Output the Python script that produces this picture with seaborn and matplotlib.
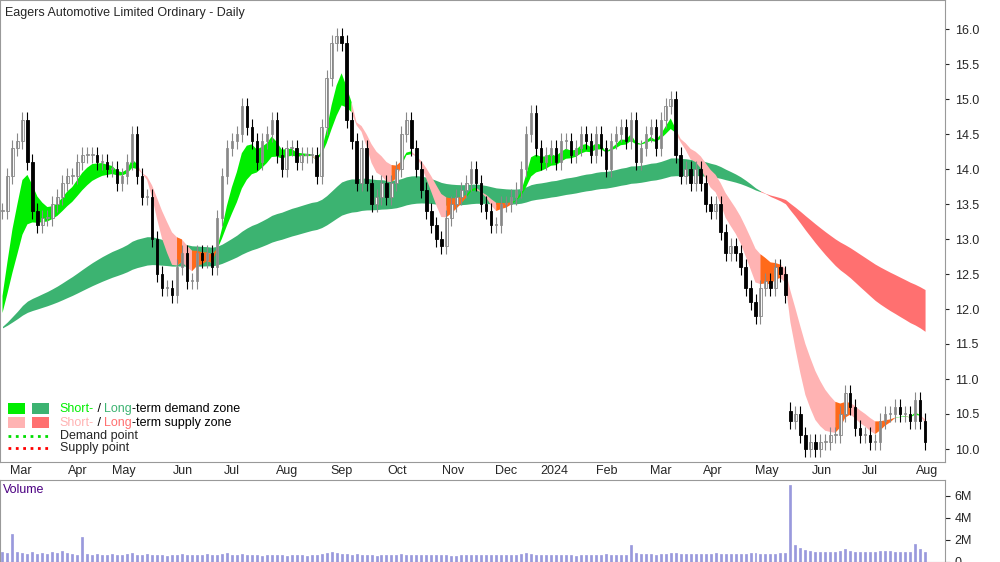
import numpy as np
import pandas as pd
import matplotlib
matplotlib.use("Agg")
import matplotlib.pyplot as plt
import seaborn as sns
from matplotlib.patches import Rectangle

sns.set_style("white")
plt.rcParams['font.family'] = ['Liberation Sans', 'DejaVu Sans']

# --- data (each sample = 2 trading days) ---
closes = [13.4,13.9,14.3,14.4,14.7,14.1,13.4,13.2,13.3,13.3,13.5,13.6,13.8,13.9,13.9,14.1,14.2,14.2,14.2,14.1,
          14.1,14.0,14.0,13.8,13.9,14.1,14.5,13.9,13.6,13.6,13.0,12.5,12.3,12.3,12.2,12.6,12.8,12.4,12.4,12.8,
          12.7,12.8,12.6,13.3,13.9,14.3,14.4,14.5,14.9,14.6,14.4,14.1,14.4,14.5,14.7,14.2,14.0,14.3,14.3,14.1,
          14.2,14.2,14.2,13.9,14.6,15.3,15.8,15.9,15.8,14.7,14.4,13.8,14.3,13.8,13.5,13.6,13.8,13.6,13.8,14.0,
          14.5,14.7,14.3,14.0,13.7,13.4,13.2,13.0,12.9,13.3,13.5,13.6,13.7,13.8,14.0,13.8,13.5,13.4,13.2,13.2,
          13.5,13.5,13.6,13.7,14.0,14.5,14.8,14.3,14.1,14.2,14.3,14.1,14.4,14.4,14.2,14.3,14.5,14.4,14.2,14.5,
          14.3,14.0,14.4,14.5,14.6,14.4,14.7,14.1,14.3,14.5,14.6,14.3,14.7,14.9,15.0,14.2,13.9,14.0,13.8,14.0,
          13.8,13.5,13.4,13.5,13.1,12.8,12.9,12.8,12.6,12.3,12.1,11.9,12.3,12.4,12.3,12.6,12.5,12.2,10.4,10.5,
          10.2,10.0,10.1,10.0,10.1,10.1,10.2,10.2,10.5,10.8,10.6,10.3,10.2,10.2,10.1,10.1,10.4,10.5,10.5,10.6,
          10.5,10.5,10.4,10.7,10.4,10.1]
volumes = [0.9,0.8,2.5,0.9,0.8,0.7,0.9,0.7,0.8,0.7,0.9,0.8,1.0,0.8,0.7,0.6,2.3,0.7,0.6,0.7,
           0.6,0.6,0.7,0.6,0.6,0.7,0.8,0.6,0.6,0.7,0.6,0.6,0.6,0.5,0.6,0.6,0.7,0.6,0.6,0.6,
           0.6,0.7,0.6,0.6,0.7,0.8,0.6,0.6,0.7,0.6,0.6,0.6,0.5,0.6,0.6,0.6,0.6,0.5,0.6,0.6,
           0.6,0.5,0.6,0.6,0.7,0.8,0.9,0.8,0.7,0.7,0.6,0.7,0.6,0.6,0.6,0.5,0.6,0.6,0.6,0.6,
           0.7,0.6,0.6,0.6,0.6,0.6,0.6,0.6,0.6,0.6,0.5,0.5,0.6,0.6,0.6,0.6,0.6,0.6,0.6,0.6,
           0.6,0.6,0.6,0.6,0.7,0.8,0.7,0.6,0.6,0.6,0.6,0.6,0.6,0.6,0.6,0.5,0.6,0.6,0.6,0.6,
           0.6,0.7,0.6,0.6,0.6,0.6,1.5,0.8,0.7,0.7,0.7,0.6,0.7,0.7,0.8,0.8,0.7,0.7,0.7,0.7,
           0.7,0.7,0.7,0.8,0.7,0.7,0.7,0.7,0.7,0.7,0.8,0.8,0.7,0.7,0.7,0.7,0.8,0.8,7.0,1.5,
           1.3,1.1,1.0,0.9,0.9,0.9,0.9,0.9,1.0,1.2,1.0,0.9,0.9,0.9,0.9,0.9,1.0,1.0,1.0,0.9,
           0.9,0.9,0.9,1.6,1.2,0.9]
gap_days = [158]
ema_seed = 11.7
month_labels = ["Mar","Apr","May","Jun","Jul","Aug","Sep","Oct","Nov","Dec","2024","Feb","Mar","Apr","May","Jun","Jul","Aug"]
month_pos = [3.6,15,24.4,36.2,46,57,68,79.2,90.4,101,110.6,121.2,132,142.4,153.2,164.4,174,185.4]
price_ticks = [10.0,10.5,11.0,11.5,12.0,12.5,13.0,13.5,14.0,14.5,15.0,15.5,16.0]

n = len(closes)
x = np.arange(n)
c = np.array(closes)
o = np.r_[c[0], c[:-1]]
for g in gap_days:
    o[g] = c[g] + 0.15

def ema(v, span):
    a = 2 / (span + 1); out = []; e = ema_seed
    for val in v:
        e = e + a * (val - e); out.append(e)
    return np.array(out)

s_fast, s_slow = ema(c, 6), ema(c, 13)
l_fast, l_slow = ema(c, 65), ema(c, 110)

fig = plt.figure(figsize=(10, 5.62), dpi=100)
ax = fig.add_axes([0, 1-462/562, 0.945, 462/562])
axv = fig.add_axes([0, 0, 0.945, 82/562])

def band(f, s, dem, sup):
    lo, hi = np.minimum(f, s), np.maximum(f, s)
    state = np.where(f > s, 0, np.where(c < lo, 1, 2))
    cols = [dem, sup, '#ff6a1a']
    for k in range(3):
        m = state == k
        mm = m | np.r_[m[1:], False]
        ax.fill_between(x, lo, hi, where=mm, color=cols[k], lw=0, interpolate=False)

band(l_fast, l_slow, '#3cb371', '#ff7070')
band(s_fast, s_slow, '#00ee00', '#ffb3b3')

wick = 0.12
for i in range(n):
    up = c[i] >= o[i]
    col = '#888888' if up else 'black'
    ax.vlines(x[i], min(o[i], c[i]) - wick, max(o[i], c[i]) + wick, color=col, lw=0.8)
    ax.add_patch(Rectangle((x[i]-0.25, min(o[i], c[i])), 0.5, max(abs(c[i]-o[i]), 0.02),
                           facecolor='white' if up else 'black', edgecolor=col, lw=0.6))

ax.set_xlim(-0.5, 189)
ax.set_ylim(16 - (462-29)/70, 16 + 29/70)
ax.yaxis.tick_right()
ax.set_yticks(price_ticks)
ax.set_yticklabels([f"{t:.1f}" for t in price_ticks], fontsize=9)
ax.set_xticks(month_pos)
ax.set_xticklabels(month_labels, fontsize=9)
ax.tick_params(axis='x', direction='in', length=3, pad=2)
ax.tick_params(axis='y', length=3, pad=4)
for sp in ax.spines.values():
    sp.set_color('#999999')
ax.text(0.005, 0.985, "Eagers Automotive Limited Ordinary - Daily", transform=ax.transAxes,
        fontsize=9, va='top', ha='left')

# legend
lx, ly = 0.008, 0.115
for j, (c1, c2, t1, t2, tail) in enumerate([('#00ee00', '#3cb371', 'Short-', 'Long', '-term demand zone'),
                                          ('#ffb3b3', '#ff7070', 'Short-', 'Long', '-term supply zone')]):
    y0 = ly - j*0.03
    ax.add_patch(Rectangle((lx, y0-0.012), 0.018, 0.025, transform=ax.transAxes, color=c1, lw=0))
    ax.add_patch(Rectangle((lx+0.026, y0-0.012), 0.018, 0.025, transform=ax.transAxes, color=c2, lw=0))
    t = ax.text(lx+0.055, y0, t1, transform=ax.transAxes, fontsize=9, color=c1, va='center')
    t3 = ax.annotate(" / ", xycoords=t, xy=(1, 0.5), va='center', fontsize=9, color='black')
    t4 = ax.annotate(t2, xycoords=t3, xy=(1, 0.5), va='center', fontsize=9, color=c2)
    ax.annotate(tail, xycoords=t4, xy=(1, 0.5), va='center', fontsize=9, color='black')
for j, (col, lab) in enumerate([('#00dd00', 'Demand point'), ('#ff0000', 'Supply point')]):
    y0 = ly - 0.058 - j*0.027
    ax.plot([lx, lx+0.044], [y0, y0], transform=ax.transAxes, color=col, ls=':', lw=2)
    ax.text(lx+0.055, y0, lab, transform=ax.transAxes, fontsize=9, va='center')

# volume
vdf = pd.DataFrame({'x': x, 'vol': np.array(volumes)})
sns.barplot(data=vdf, x='x', y='vol', native_scale=True, ax=axv, color='#9999dd', width=0.4,
            saturation=1, edgecolor='#9999dd', linewidth=0.5)
axv.set_xlim(-0.5, 189)
axv.set_ylim(0, 7.45)
axv.yaxis.tick_right()
axv.set_yticks([0, 2, 4, 6])
axv.set_yticklabels(['0', '2M', '4M', '6M'], fontsize=9)
axv.set_xticks([])
axv.set_xlabel(''); axv.set_ylabel('')
for sp in axv.spines.values():
    sp.set_color('#999999')
axv.text(0.003, 0.95, "Volume", transform=axv.transAxes, fontsize=9, va='top', color='#4b0082')

fig.savefig("out.png", dpi=100)
